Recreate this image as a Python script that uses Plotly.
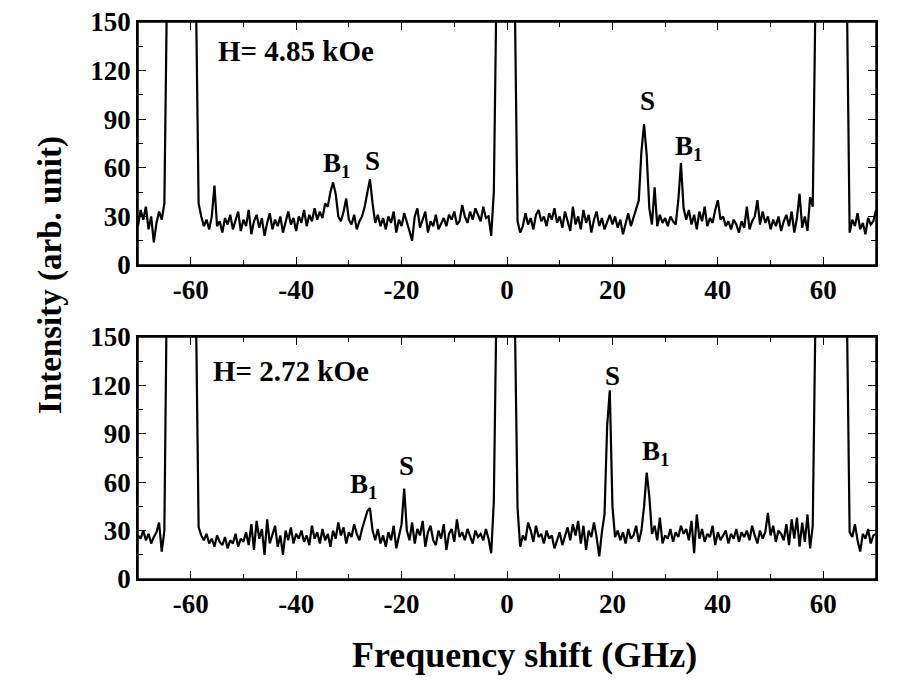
import plotly.graph_objects as go

# Frequency grid (GHz), 0.5 GHz sampling from -70 to 70
freq = [round(-70 + 0.5 * i, 1) for i in range(281)]

# ---------- Top panel: H = 4.85 kOe ----------
top_a = [24, 34, 28, 36, 22, 30, 14, 26, 33, 28, 38]                       # -70 .. -65
top_b = [170, 350, 700, 1200, 1800, 2000, 1800, 1200, 700, 350, 200, 165]  # -64.5 .. -59
top_c = [38, 30, 24, 28, 22, 30, 49, 24, 27, 20,
         29, 25, 31, 22, 27, 33, 21, 28, 24, 34,
         19, 27, 31, 23, 29, 18, 26, 32, 22, 28,
         24, 30, 20, 27, 33, 25, 29, 21, 30, 26,
         34, 24, 31, 27, 35, 28, 33, 29, 38, 36,
         45, 51, 44, 30, 27, 33, 41, 28, 25, 31,
         22, 27, 30, 36, 45, 53, 38, 26, 31, 24,
         29, 22, 30, 26, 33, 20, 28, 24, 32, 27,
         21, 15, 30, 35, 23, 28, 33, 20, 27, 24,
         31, 22, 26, 29, 24, 31, 28, 33, 25, 27,
         37, 30, 26, 33, 28, 35, 31, 27, 36, 29,
         30, 18, 45]                                                          # -58.5 .. -2.5
top_d = [170, 2000, 5000, 8000, 9000, 8000, 5000, 160]                      # -2 .. 1.5
top_e = [27, 20, 24, 32, 25, 29, 22, 31, 34, 27,
         30, 24, 32, 28, 35, 26, 30, 23, 33, 27,
         21, 36, 25, 30, 22, 34, 26, 31, 20, 28,
         33, 24, 29, 22, 27, 31, 25, 30, 23, 28,
         19, 26, 32, 24, 29, 35, 40, 70, 87, 68,
         35, 25, 48, 24, 31, 26, 29, 24, 30, 27,
         25, 40, 63, 35, 28, 34, 25, 31, 22, 33,
         27, 36, 24, 29, 26, 34, 40, 28, 30, 24,
         27, 22, 28, 25, 20, 27, 23, 36, 22, 27,
         30, 40, 25, 33, 26, 30, 22, 28, 24, 30,
         21, 27, 31, 24, 33, 20, 29, 44, 23, 30,
         21, 42, 36]                                                          # 2 .. 58
top_f = [160, 400, 800, 1400, 1900, 2100, 2000, 1600, 1000, 600, 350, 200, 160]  # 58.5 .. 64.5
top_g = [20, 28, 24, 32, 22, 26, 19, 29, 25, 27, 34]                        # 65 .. 70
intensity_top = top_a + top_b + top_c + top_d + top_e + top_f + top_g

# ---------- Bottom panel: H = 2.72 kOe ----------
bot_a = [27, 25, 30, 24, 28, 22, 26, 29, 35, 17, 30]
bot_b = [170, 350, 700, 1200, 1800, 2000, 1800, 1200, 700, 350, 200, 165]
bot_c = [32, 27, 24, 28, 22, 25, 20, 27, 23, 21,
         26, 19, 24, 22, 28, 20, 25, 23, 29, 21,
         34, 18, 36, 25, 31, 15, 37, 22, 28, 33,
         20, 27, 15, 30, 24, 32, 22, 28, 25, 30,
         23, 27, 21, 33, 25, 29, 22, 31, 24, 28,
         20, 30, 25, 35, 27, 32, 22, 29, 26, 34,
         28, 24, 31, 36, 42, 44, 30, 24, 31, 22,
         27, 20, 29, 24, 33, 19, 26, 34, 56, 30,
         24, 35, 22, 31, 27, 36, 20, 29, 33, 24,
         21, 30, 25, 34, 18, 28, 31, 23, 37, 26,
         29, 24, 31, 27, 22, 30, 26, 28, 24, 31,
         25, 16, 48]
bot_d = [170, 2000, 5000, 8000, 9000, 8000, 5000, 160]
bot_e = [44, 20, 27, 24, 35, 30, 23, 33, 26, 28,
         22, 30, 25, 27, 19, 24, 29, 21, 27, 32,
         24, 34, 27, 36, 22, 33, 18, 30, 26, 35,
         26, 14, 29, 40, 95, 117, 45, 26, 30, 24,
         29, 22, 31, 25, 27, 33, 23, 30, 45, 66,
         51, 28, 33, 24, 38, 22, 27, 25, 31, 23,
         29, 26, 33, 28, 31, 24, 36, 16, 40, 25,
         31, 23, 28, 26, 33, 21, 29, 24, 27, 30,
         22, 28, 25, 31, 23, 29, 26, 30, 24, 33,
         27, 22, 30, 25, 29, 41, 27, 33, 23, 30,
         28, 24, 34, 21, 37, 25, 38, 20, 35, 23,
         40, 19, 33]
bot_f = [160, 400, 800, 1400, 1900, 2100, 2000, 1600, 1000, 600, 350, 200, 160]
bot_g = [29, 26, 34, 24, 17, 28, 25, 31, 22, 27, 28]
intensity_bot = bot_a + bot_b + bot_c + bot_d + bot_e + bot_f + bot_g

assert len(intensity_top) == len(freq) == len(intensity_bot)

x_ticks = [-60, -40, -20, 0, 20, 40, 60]
x_tick_labels = ["-60", "-40", "-20", "0", "20", "40", "60"]
y_ticks = [0, 30, 60, 90, 120, 150]
y_tick_labels = ["0", "30", "60", "90", "120", "150"]

FONT = "Liberation Serif, Times New Roman, Times, DejaVu Serif, serif"
fig = go.Figure()
fig.add_trace(go.Scatter(x=freq, y=intensity_top, mode="lines",
                         line=dict(color="black", width=2.2), xaxis="x", yaxis="y",
                         showlegend=False))
fig.add_trace(go.Scatter(x=freq, y=intensity_bot, mode="lines",
                         line=dict(color="black", width=2.2), xaxis="x2", yaxis="y2",
                         showlegend=False))

tickfont = dict(family=FONT, size=27, color="black", weight="bold")
xcommon = dict(range=[-70, 70], tickvals=x_ticks, ticktext=x_tick_labels,
               ticks="inside", ticklen=8, tickwidth=1.2,
               tickcolor="black", showline=True, linecolor="black", linewidth=1.5,
               mirror="allticks", showgrid=False, zeroline=False,
               tickfont=tickfont,
               minor=dict(dtick=10, tick0=0, ticks="inside", ticklen=5, tickwidth=1.2,
                          tickcolor="black", showgrid=False))
ycommon = dict(range=[0, 150], tickvals=y_ticks, ticktext=y_tick_labels,
               ticks="inside", ticklen=8, tickwidth=1.2,
               tickcolor="black", showline=True, linecolor="black", linewidth=1.5,
               mirror="allticks", showgrid=False, zeroline=False,
               tickfont=tickfont,
               minor=dict(dtick=15, tick0=0, ticks="inside", ticklen=5, tickwidth=1.2,
                          tickcolor="black", showgrid=False))

fig.update_layout(
    width=902, height=688,
    margin=dict(l=138, r=26, t=22, b=109, autoexpand=False),
    paper_bgcolor="white", plot_bgcolor="white",
    xaxis=dict(domain=[0, 1], anchor="y", **xcommon),
    yaxis=dict(domain=[0.5637, 1], anchor="x", **ycommon),
    xaxis2=dict(domain=[0, 1], anchor="y2", **xcommon),
    yaxis2=dict(domain=[0, 0.4345], anchor="x2", **ycommon),
)

# frame around each panel
for xr, yr in (("x domain", "y domain"), ("x2 domain", "y2 domain")):
    fig.add_shape(type="rect", xref=xr, yref=yr, x0=0, x1=1, y0=0, y1=1,
                  line=dict(color="black", width=1.5), layer="above")

notes = [
    ("x", "y", -55.2, 132, "H= 4.85 kOe", 29),
    ("x", "y", -35.2, 62, "B<sub>1</sub>", 27),
    ("x", "y", -27.4, 64, "S", 27),
    ("x", "y", 24.9, 101, "S", 27),
    ("x", "y", 31.4, 72, "B<sub>1</sub>", 27),
    ("x2", "y2", -56.2, 129, "H= 2.72 kOe", 29),
    ("x2", "y2", -30.2, 57.5, "B<sub>1</sub>", 27),
    ("x2", "y2", -20.9, 70, "S", 27),
    ("x2", "y2", 18.3, 126, "S", 27),
    ("x2", "y2", 25.3, 78, "B<sub>1</sub>", 27),
]
for xr, yr, xv, yv, txt, sz in notes:
    fig.add_annotation(x=xv, y=yv, xref=xr, yref=yr, text=txt, showarrow=False,
                       xanchor="left", yanchor="middle",
                       font=dict(family=FONT, size=sz, color="black", weight="bold"))

fig.add_annotation(x=-0.118, y=0.5458, xref="paper", yref="paper",
                   text="Intensity (arb. unit)", textangle=-90, showarrow=False,
                   xanchor="center", yanchor="middle",
                   font=dict(family=FONT, size=33, color="black", weight="bold"))
fig.add_annotation(x=0.524, y=-0.1364, xref="paper", yref="paper",
                   text="Frequency shift (GHz)", showarrow=False,
                   xanchor="center", yanchor="middle",
                   font=dict(family=FONT, size=36, color="black", weight="bold"))

fig.write_html("out.html", config={"displayModeBar": False},
               post_script="document.body.style.margin='0';document.body.style.overflow='hidden';")
